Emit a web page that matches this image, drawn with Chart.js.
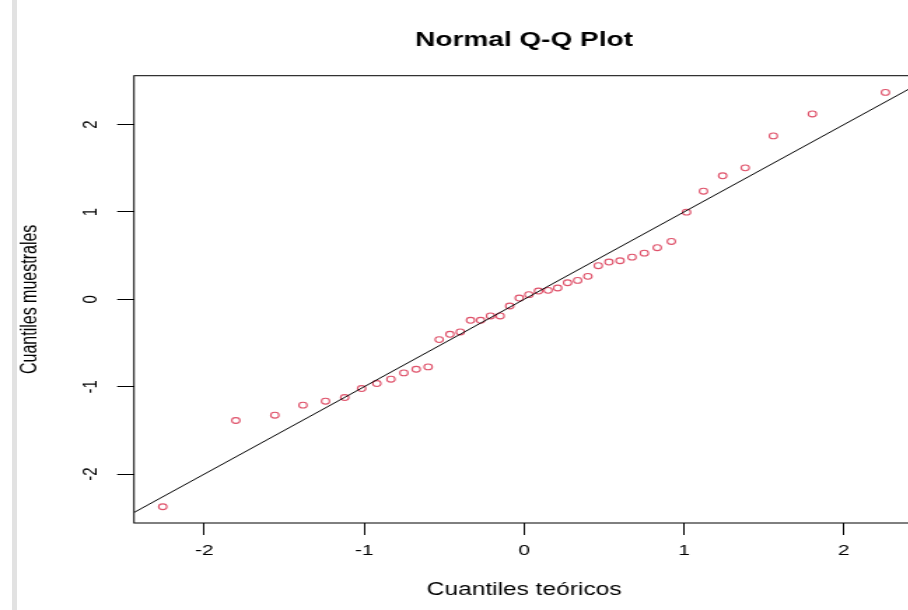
<!DOCTYPE html>
<html>
<head>
<meta charset="utf-8">
<script src="https://cdn.jsdelivr.net/npm/chart.js@4.4.1/dist/chart.umd.min.js"></script>
<style>
html, body { margin: 0; padding: 0; overflow: hidden; background: #fff; width: 908px; height: 610px; }
#wrap { position: absolute; left: 0; top: 0; width: 653px; height: 610px; transform: scaleX(1.4); transform-origin: 0 0; }
#edge { position: absolute; left: 12px; top: 0; width: 5px; height: 610px; background: #e2e2e2; }
</style>
</head>
<body>
<div id="wrap"><canvas id="qqChart" width="653" height="610"></canvas></div>
<div id="edge"></div>
<script>
// cuantiles teóricos (eje x) y muestrales (eje y)
var teoricos = [-2.260, -1.803, -1.559, -1.383, -1.242, -1.122, -1.016, -0.921, -0.833, -0.752,
	-0.675, -0.600, -0.531, -0.464, -0.399, -0.335, -0.272, -0.210, -0.150, -0.090,
	-0.030, 0.030, 0.090, 0.150, 0.210, 0.272, 0.335, 0.399, 0.464, 0.531,
	0.600, 0.675, 0.752, 0.833, 0.921, 1.016, 1.122, 1.242, 1.383, 1.559, 1.803, 2.260];
var muestrales = [-2.374, -1.387, -1.326, -1.211, -1.166, -1.124, -1.021, -0.964, -0.914, -0.842,
	-0.800, -0.773, -0.461, -0.400, -0.373, -0.240, -0.240, -0.190, -0.190, -0.076,
	0.015, 0.054, 0.095, 0.103, 0.130, 0.190, 0.217, 0.263, 0.385, 0.427,
	0.442, 0.483, 0.529, 0.591, 0.663, 0.998, 1.238, 1.414, 1.505, 1.871, 2.122, 2.369];
var xTicks = [-2, -1, 0, 1, 2];
var yTicks = [-2, -1, 0, 1, 2];
// recta de referencia
var lineIntercept = 0;
var lineSlope = 1;

var xMin = -2.44, xMax = 2.44;
var yMin = -2.56, yMax = 2.56;
var fam = '"Liberation Sans", Arial, sans-serif';

var puntos = teoricos.map(function (x, i) { return {x: x, y: muestrales[i]}; });
var recta = [xMin, xMax].map(function (x) { return {x: x, y: lineIntercept + lineSlope * x}; });

var frame = {
	id: 'frame',
	afterDraw: function (chart) {
		var a = chart.chartArea, c = chart.ctx;
		c.save();
		c.strokeStyle = '#000';
		c.lineWidth = 1;
		c.strokeRect(a.left, a.top, a.right - a.left, a.bottom - a.top);
		c.restore();
	}
};

var ctx = document.getElementById("qqChart").getContext("2d");
var myChart = new Chart(ctx, {
	type: 'scatter',
	data: {
		datasets: [{
			data: puntos,
			pointStyle: 'circle',
			pointRadius: 2.9,
			pointBorderWidth: 1.1,
			borderColor: '#DF536B',
			backgroundColor: 'rgba(0,0,0,0)',
			order: 2
		}, {
			type: 'line',
			data: recta,
			borderColor: '#000',
			borderWidth: 1,
			pointRadius: 0,
			fill: false,
			order: 1
		}]
	},
	options: {
		responsive: false,
		animation: false,
		layout: { padding: 0, autoPadding: false },
		plugins: {
			legend: { display: false },
			tooltip: { enabled: false },
			title: {
				display: true,
				text: 'Normal Q-Q Plot',
				fullSize: false,
				color: '#000',
				font: { family: fam, size: 20, weight: 'bold' },
				padding: { top: 28, bottom: 23.7 }
			}
		},
		scales: {
			x: {
				type: 'linear',
				min: xMin,
				max: xMax,
				afterBuildTicks: function (s) { s.ticks = xTicks.map(function (v) { return {value: v}; }); },
				afterFit: function (s) { s.height = 87; s.paddingLeft = 0; s.paddingRight = 0; },
				grid: { drawOnChartArea: false, tickLength: 12, color: '#000' },
				border: { display: false },
				ticks: { color: '#000', font: { family: fam, size: 15 }, padding: 7, maxRotation: 0 },
				title: {
					display: true,
					text: 'Cuantiles teóricos',
					color: '#000',
					font: { family: fam, size: 17.5 },
					padding: { top: 0, bottom: 9.5 }
				}
			},
			y: {
				type: 'linear',
				min: yMin,
				max: yMax,
				afterBuildTicks: function (s) { s.ticks = yTicks.map(function (v) { return {value: v}; }); },
				afterFit: function (s) { s.width = 95.7; s.paddingTop = 0; s.paddingBottom = 0; },
				grid: { drawOnChartArea: false, tickLength: 12, color: '#000' },
				border: { display: false },
				ticks: {
					color: '#000',
					font: { family: fam, size: 15 },
					padding: 12.5,
					minRotation: 90,
					maxRotation: 90,
					crossAlign: 'center'
				},
				title: {
					display: true,
					text: 'Cuantiles muestrales',
					color: '#000',
					font: { family: fam, size: 16 },
					padding: { top: 12, bottom: 0 }
				}
			}
		}
	},
	plugins: [frame]
});
</script>
</body>
</html>
